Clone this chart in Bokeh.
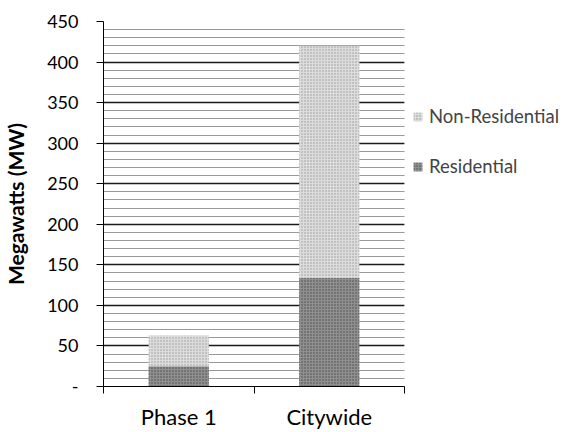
import numpy as np
from bokeh.plotting import figure
from bokeh.models import (ColumnDataSource, Range1d, SingleIntervalTicker, FixedTicker,
                          Legend, LegendItem)
from bokeh.embed import file_html
from bokeh.resources import INLINE

categories = ["Phase 1", "Citywide"]
residential = [25, 134]
non_residential = [38, 286]
y_ticks_label_zero = "-"
y_axis_label = "Megawatts (MW)"

x_pos = (np.arange(len(categories)) + 0.5).tolist()
src = ColumnDataSource(dict(x=x_pos, cat=categories,
                            Residential=residential,
                            NonResidential=non_residential))

FONT = "Lato"

p = figure(frame_width=301, frame_height=365,
           min_border_left=102, min_border_right=160,
           min_border_top=21, min_border_bottom=46,
           x_range=Range1d(0, len(categories)), y_range=Range1d(0, 450),
           output_backend="svg", toolbar_location=None,
           background_fill_color="white", border_fill_color="white")
p.outline_line_color = None

rs = p.vbar_stack(["Residential", "NonResidential"], x="x", width=0.4, source=src,
                  fill_color=["#8f8f8f", "#dcdcdc"], line_color=None,
                  hatch_pattern="dot", hatch_color=["#4a4a4a", "#9a9a9a"],
                  hatch_scale=3, hatch_weight=1)

# grid
p.xgrid.visible = False
p.ygrid.ticker = SingleIntervalTicker(interval=50, num_minor_ticks=5)
p.ygrid.grid_line_color = "#1a1a1a"
p.ygrid.grid_line_width = 1.5
p.ygrid.minor_grid_line_color = "#333333"
p.ygrid.minor_grid_line_dash = "1 1"
p.ygrid.minor_grid_line_width = 1

# y axis
ya = p.yaxis[0]
ya.ticker = SingleIntervalTicker(interval=50, num_minor_ticks=5)
ya.major_label_overrides = {0: y_ticks_label_zero}
ya.axis_label = y_axis_label
ya.axis_label_text_font = FONT
ya.axis_label_text_font_style = "bold"
ya.axis_label_text_font_size = "21px"
ya.axis_label_text_color = "black"
ya.axis_label_standoff = 16
ya.major_label_text_font = FONT
ya.major_label_text_font_size = "18px"
ya.major_label_text_color = "black"
ya.major_label_standoff = 18
ya.major_tick_out = 7
ya.major_tick_in = 0
ya.minor_tick_out = 0
ya.minor_tick_in = 0
ya.axis_line_color = "black"
ya.major_tick_line_color = "black"

# x axis
xa = p.xaxis[0]
xa.ticker = FixedTicker(ticks=x_pos, minor_ticks=list(range(len(categories) + 1)))
xa.major_label_overrides = {x: c for x, c in zip(x_pos, categories)}
xa.major_label_text_font = FONT
xa.major_label_text_font_size = "22px"
xa.major_label_text_color = "black"
xa.major_label_standoff = 9
xa.major_tick_out = 0
xa.major_tick_in = 0
xa.minor_tick_out = 7
xa.minor_tick_in = 0
xa.minor_tick_line_color = "black"
xa.axis_line_color = "black"

legend = Legend(items=[LegendItem(label="Non-Residential", renderers=[rs[1]]),
                       LegendItem(label="Residential", renderers=[rs[0]])],
                location=(8, 209), orientation="vertical",
                glyph_width=11, glyph_height=11, label_standoff=6,
                label_height=20, spacing=28, padding=0, margin=0,
                label_text_font=FONT, label_text_font_size="18.5px",
                border_line_color=None, background_fill_alpha=0)
p.add_layout(legend, "right")

open("out.html", "w").write(file_html(p, INLINE))
